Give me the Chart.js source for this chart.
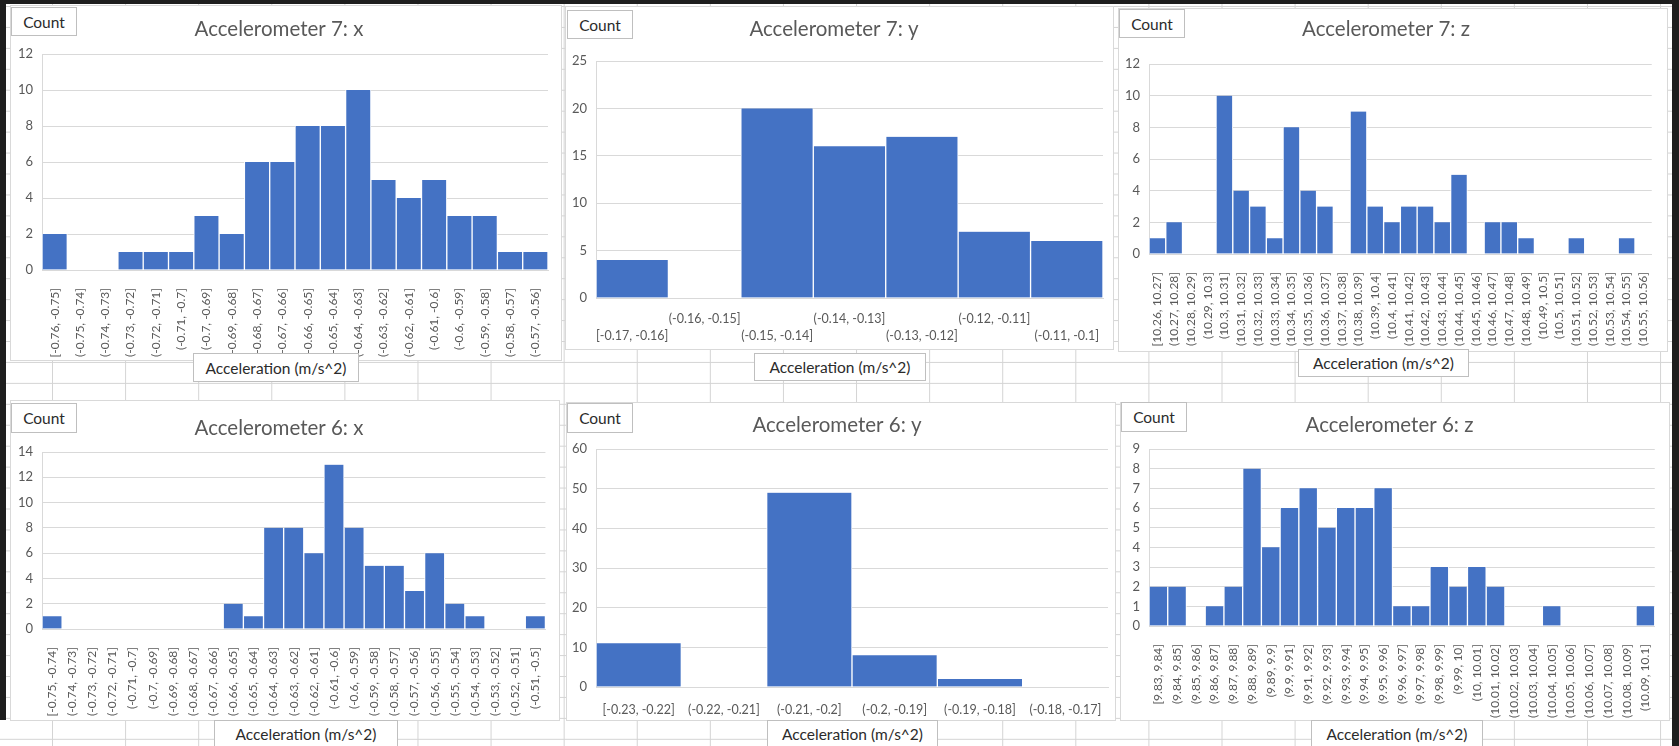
<!DOCTYPE html>
<html>
<head>
<meta charset="utf-8">
<title>Accelerometer histograms</title>
<script src="https://cdn.jsdelivr.net/npm/chart.js@4.4.1/dist/chart.umd.min.js"></script>
<style>
html, body { margin: 0; padding: 0; }
body {
  width: 1679px; height: 746px; position: relative; overflow: hidden;
  background-color: #fff;
  background-image:
    linear-gradient(to right, #d4d4d4 1px, transparent 1px),
    linear-gradient(to bottom, #d4d4d4 1px, transparent 1px);
  background-size: 73.1px 100%, 100% 20.94px;
  background-position: 52px 0, 0 6px;
  font-family: Lato, sans-serif;
}
.edge { position: absolute; background: #1e1e1e; }
.panel { position: absolute; background: #fff; outline: 1px solid #d9d9d9; outline-offset: -1px; }
.panel canvas { display: block; }
.tag {
  position: absolute; box-sizing: border-box; background: #fff;
  border: 1px solid #bfbfbf; color: #2b2b2b; font-size: 15.5px;
  display: flex; align-items: center; justify-content: center;
}
</style>
</head>
<body>
<div class="edge" style="left:0;top:0;width:1679px;height:4px"></div>
<div class="edge" style="left:0;top:0;width:6px;height:720px"></div>
<div class="edge" style="left:1672px;top:0;width:7px;height:746px"></div>

<script>
// Accelerometer 7, x axis
const a7xBins = ['[-0.76, -0.75]','(-0.75, -0.74]','(-0.74, -0.73]','(-0.73, -0.72]','(-0.72, -0.71]',
  '(-0.71, -0.7]','(-0.7, -0.69]','(-0.69, -0.68]','(-0.68, -0.67]','(-0.67, -0.66]','(-0.66, -0.65]',
  '(-0.65, -0.64]','(-0.64, -0.63]','(-0.63, -0.62]','(-0.62, -0.61]','(-0.61, -0.6]','(-0.6, -0.59]',
  '(-0.59, -0.58]','(-0.58, -0.57]','(-0.57, -0.56]'];
const a7xCounts = [2,0,0,1,1,1,3,2,6,6,8,8,10,5,4,5,3,3,1,1];

// Accelerometer 7, y axis
const a7yBins = ['[-0.17, -0.16]','(-0.16, -0.15]','(-0.15, -0.14]','(-0.14, -0.13]','(-0.13, -0.12]',
  '(-0.12, -0.11]','(-0.11, -0.1]'];
const a7yCounts = [4,0,20,16,17,7,6];

// Accelerometer 7, z axis
const a7zBins = ['[10.26, 10.27]','(10.27, 10.28]','(10.28, 10.29]','(10.29, 10.3]','(10.3, 10.31]',
  '(10.31, 10.32]','(10.32, 10.33]','(10.33, 10.34]','(10.34, 10.35]','(10.35, 10.36]','(10.36, 10.37]',
  '(10.37, 10.38]','(10.38, 10.39]','(10.39, 10.4]','(10.4, 10.41]','(10.41, 10.42]','(10.42, 10.43]',
  '(10.43, 10.44]','(10.44, 10.45]','(10.45, 10.46]','(10.46, 10.47]','(10.47, 10.48]','(10.48, 10.49]',
  '(10.49, 10.5]','(10.5, 10.51]','(10.51, 10.52]','(10.52, 10.53]','(10.53, 10.54]','(10.54, 10.55]',
  '(10.55, 10.56]'];
const a7zCounts = [1,2,0,0,10,4,3,1,8,4,3,0,9,3,2,3,3,2,5,0,2,2,1,0,0,1,0,0,1,0];

// Accelerometer 6, x axis
const a6xBins = ['[-0.75, -0.74]','(-0.74, -0.73]','(-0.73, -0.72]','(-0.72, -0.71]','(-0.71, -0.7]',
  '(-0.7, -0.69]','(-0.69, -0.68]','(-0.68, -0.67]','(-0.67, -0.66]','(-0.66, -0.65]','(-0.65, -0.64]',
  '(-0.64, -0.63]','(-0.63, -0.62]','(-0.62, -0.61]','(-0.61, -0.6]','(-0.6, -0.59]','(-0.59, -0.58]',
  '(-0.58, -0.57]','(-0.57, -0.56]','(-0.56, -0.55]','(-0.55, -0.54]','(-0.54, -0.53]','(-0.53, -0.52]',
  '(-0.52, -0.51]','(-0.51, -0.5]'];
const a6xCounts = [1,0,0,0,0,0,0,0,0,2,1,8,8,6,13,8,5,5,3,6,2,1,0,0,1];

// Accelerometer 6, y axis
const a6yBins = ['[-0.23, -0.22]','(-0.22, -0.21]','(-0.21, -0.2]','(-0.2, -0.19]','(-0.19, -0.18]','(-0.18, -0.17]'];
const a6yCounts = [11,0,49,8,2,0];

// Accelerometer 6, z axis
const a6zBins = ['[9.83, 9.84]','(9.84, 9.85]','(9.85, 9.86]','(9.86, 9.87]','(9.87, 9.88]','(9.88, 9.89]',
  '(9.89, 9.9]','(9.9, 9.91]','(9.91, 9.92]','(9.92, 9.93]','(9.93, 9.94]','(9.94, 9.95]','(9.95, 9.96]',
  '(9.96, 9.97]','(9.97, 9.98]','(9.98, 9.99]','(9.99, 10]','(10, 10.01]','(10.01, 10.02]','(10.02, 10.03]',
  '(10.03, 10.04]','(10.04, 10.05]','(10.05, 10.06]','(10.06, 10.07]','(10.07, 10.08]','(10.08, 10.09]',
  '(10.09, 10.1]'];
const a6zCounts = [2,2,0,1,2,8,4,6,7,5,6,6,7,1,1,3,2,3,2,0,0,1,0,0,0,0,1];

const yTitle = 'Count';
const xTitle = 'Acceleration (m/s^2)';

Chart.defaults.font.family = 'Lato';
Chart.defaults.color = '#595959';

// box = panel rect on the page, plot = plot area inside the panel (left, top, right, bottom)
const panels = [
  { title: 'Accelerometer 7: x', bins: a7xBins, counts: a7xCounts, max: 12, step: 2, labels: 'rotated',
    box: [10, 5, 552, 356], plot: [32, 49, 538, 265], titleY: 24,
    countTag: [11, 7, 66, 29], axisTag: [193, 353, 166, 29] },
  { title: 'Accelerometer 7: y', bins: a7yBins, counts: a7yCounts, max: 25, step: 5, labels: 'stagger',
    box: [565, 6, 549, 344], plot: [31, 55, 538, 292], titleY: 23,
    countTag: [567, 10, 66, 29], axisTag: [754, 353, 172, 28] },
  { title: 'Accelerometer 7: z', bins: a7zBins, counts: a7zCounts, max: 12, step: 2, labels: 'rotated',
    box: [1118, 8, 550, 344], plot: [31, 56, 536, 246], titleY: 21,
    countTag: [1119, 9, 66, 29], axisTag: [1298, 349, 171, 28] },
  { title: 'Accelerometer 6: x', bins: a6xBins, counts: a6xCounts, max: 14, step: 2, labels: 'rotated',
    box: [10, 400, 550, 321], plot: [32, 52, 538, 229], titleY: 28,
    countTag: [11, 403, 66, 30], axisTag: [214, 720, 184, 27] },
  { title: 'Accelerometer 6: y', bins: a6yBins, counts: a6yCounts, max: 60, step: 10, labels: 'flat',
    box: [566, 402, 550, 319], plot: [30, 47, 542, 285], titleY: 23,
    countTag: [567, 403, 66, 30], axisTag: [767, 720, 171, 27] },
  { title: 'Accelerometer 6: z', bins: a6zBins, counts: a6zCounts, max: 9, step: 1, labels: 'rotated',
    box: [1120, 402, 550, 319], plot: [29, 47, 539, 224], titleY: 23,
    countTag: [1121, 402, 66, 30], axisTag: [1311, 720, 172, 27] }
];

function addTag(text, r) {
  const el = document.createElement('div');
  el.className = 'tag';
  el.style.left = r[0] + 'px';
  el.style.top = r[1] + 'px';
  el.style.width = r[2] + 'px';
  el.style.height = r[3] + 'px';
  el.textContent = text;
  document.body.appendChild(el);
}

function drawHistogram(p) {
  const [bx, by, bw, bh] = p.box;
  const [pl, pt, pr, pb] = p.plot;

  const wrap = document.createElement('div');
  wrap.className = 'panel';
  wrap.style.left = bx + 'px';
  wrap.style.top = by + 'px';
  wrap.style.width = bw + 'px';
  wrap.style.height = bh + 'px';
  const canvas = document.createElement('canvas');
  canvas.width = bw;
  canvas.height = bh;
  wrap.appendChild(canvas);
  document.body.appendChild(wrap);

  const titleSize = 20.5, titleLine = 1.2;
  const half = titleSize * titleLine / 2;

  let tickOpts;
  if (p.labels === 'rotated') {
    tickOpts = { minRotation: 90, maxRotation: 90, padding: 10, font: { size: 12 } };
  } else if (p.labels === 'stagger') {
    // two rows so the wide labels don't run into each other
    tickOpts = {
      maxRotation: 0, padding: 4, font: { size: 12.5, lineHeight: 1.4 },
      callback: function (v, i) {
        const s = this.getLabelForValue(v);
        return i % 2 ? [s, ''] : ['', s];
      }
    };
  } else {
    tickOpts = { maxRotation: 0, padding: 7, font: { size: 12.5 } };
  }
  tickOpts.autoSkip = false;

  new Chart(canvas.getContext('2d'), {
    type: 'bar',
    data: {
      labels: p.bins,
      datasets: [{
        data: p.counts,
        backgroundColor: '#4472C4',
        borderColor: '#ffffff',
        borderWidth: { left: 1, right: 1, top: 0, bottom: 0 },
        barPercentage: 1,
        categoryPercentage: 1
      }]
    },
    options: {
      responsive: false,
      animation: false,
      devicePixelRatio: 1,
      events: [],
      layout: { padding: { top: 0, left: 0, right: bw - pr, bottom: 0 } },
      plugins: {
        legend: { display: false },
        tooltip: { enabled: false },
        title: {
          display: true,
          text: p.title,
          color: '#595959',
          font: { size: titleSize, weight: 'normal', lineHeight: titleLine },
          padding: { top: p.titleY - half, bottom: pt - p.titleY - half }
        }
      },
      scales: {
        x: {
          grid: { display: false },
          border: { display: true, color: '#d9d9d9' },
          ticks: tickOpts,
          afterFit: s => { s.height = bh - pb; }
        },
        y: {
          min: 0,
          max: p.max,
          grid: { color: '#d9d9d9', drawTicks: false },
          border: { display: true, color: '#d9d9d9' },
          ticks: { stepSize: p.step, padding: 9, font: { size: 13 } },
          afterFit: s => { s.width = pl; }
        }
      }
    }
  });

  addTag(yTitle, p.countTag);
  addTag(xTitle, p.axisTag);
}

panels.forEach(drawHistogram);
</script>
</body>
</html>
